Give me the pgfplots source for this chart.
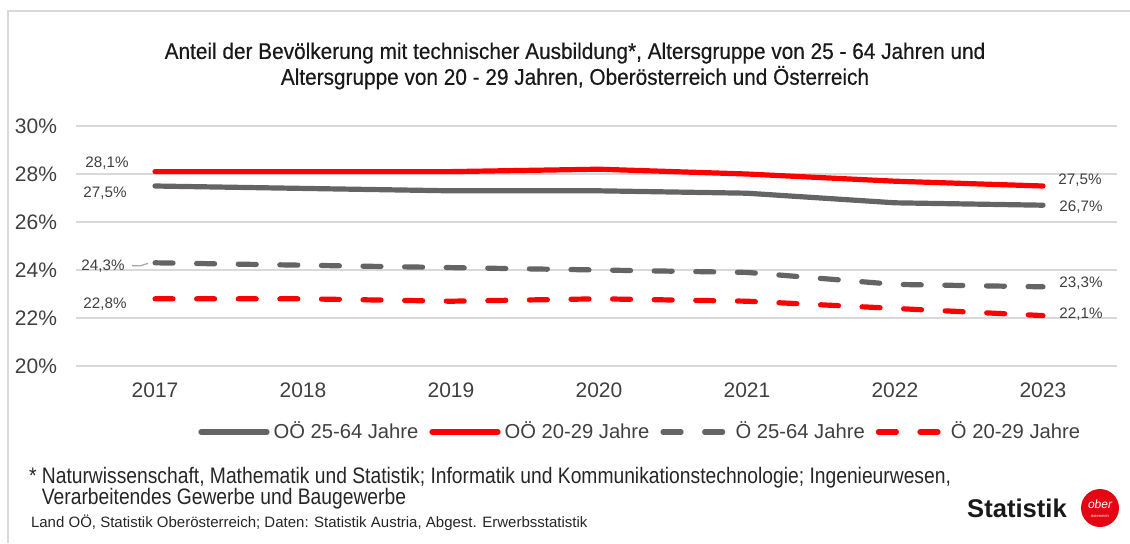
\documentclass[border=0pt]{standalone}
\usepackage{pgfplots}
\pgfplotsset{compat=1.18}
\usepackage{fontspec}
\setmainfont{Liberation Sans}
\newfontfamily\narrowfont{Liberation Sans}[FakeStretch=0.86]
\newfontfamily\titlefont{Liberation Sans}[FakeStretch=0.92,FakeBold=0.4]
\definecolor{lgray}{HTML}{646464}
\definecolor{lred}{HTML}{FF0000}
\definecolor{gridc}{HTML}{D9D9D9}
\definecolor{txt}{HTML}{404040}
\definecolor{logored}{HTML}{E30613}
\begin{document}
\begin{tikzpicture}
\begin{scope}[x=0.5pt,y=-0.5pt]
\useasboundingbox (0,0) rectangle (1130,543);
\draw[gridc,line width=1pt] (8,543) -- (8,11) -- (1130,11);
\node[font=\titlefont\fontsize{11.3}{12.4}\selectfont,text=black!90,align=center] at (575,66)
 {Anteil der Bevölkerung mit technischer Ausbildung*, Altersgruppe von 25 - 64 Jahren und\\[0.5pt]
 Altersgruppe von 20 - 29 Jahren, Oberösterreich und Österreich};
\node[anchor=west,font=\narrowfont\fontsize{11.2}{11}\selectfont,text=black!85,align=left] at (22,488)
 {* Naturwissenschaft, Mathematik und Statistik; Informatik und Kommunikationstechnologie; Ingenieurwesen,\\[-0.6pt]
 \hphantom{* }Verarbeitendes Gewerbe und Baugewerbe};
\node[anchor=west,font=\fontsize{7.5}{8}\selectfont,text=black!85] at (24,523)
 {Land OÖ, Statistik Oberösterreich; Daten: Statistik Austria, Abgest. Erwerbsstatistik};
\node[anchor=center,font=\fontsize{12.8}{14}\bfseries\selectfont,text=black!90] at (1017,508) {Statistik};
\fill[logored] (1100,508) circle (9.5pt);
\node[text=white,font=\fontsize{6}{6}\itshape\selectfont] at (1100,504) {ober};
\node[text=white,font=\fontsize{2}{2}\selectfont] at (1100,516) {österreich};
\end{scope}
\begin{axis}[
  at={(38pt,-183pt)}, anchor=south west,
  scale only axis, width=520.5pt, height=120pt,
  xmin=2016.466, xmax=2023.5, ymin=20, ymax=30,
  xtick={2017,...,2023},
  xticklabel style={/pgf/number format/1000 sep={},font=\fontsize{10.5}{12}\selectfont,text=txt,yshift=-5pt},
  ytick={20,22,...,30},
  yticklabel={\pgfmathprintnumber{\tick}\%},
  yticklabel style={font=\fontsize{10.5}{12}\selectfont,text=txt,xshift=-6pt},
  /pgf/number format/assume math mode=true,
  ymajorgrids, grid style={gridc,line width=0.9pt},
  axis line style={draw=none}, major tick length=0pt,
  clip=false,
  legend columns=4,
  legend style={at={(0.543,-0.275)},anchor=center,draw=none,fill=none,
    font=\fontsize{10.1}{12}\selectfont,text=txt,inner sep=0pt,
    /tikz/every even column/.append style={column sep=3.5pt}},
  legend image code/.code={\draw[#1] (0pt,0pt) -- (33pt,0pt);},
]
\addplot[lgray,line width=2.6pt,line cap=round] coordinates {(2017,27.5) (2018,27.4) (2019,27.3) (2020,27.3) (2021,27.2) (2022,26.8) (2023,26.7)};
\addlegendentry{OÖ 25-64 Jahre}
\addplot[lred,line width=2.6pt,line cap=round] coordinates {(2017,28.1) (2018,28.1) (2019,28.1) (2020,28.2) (2021,28.0) (2022,27.7) (2023,27.5)};
\addlegendentry{OÖ 20-29 Jahre}
\addplot[lgray,line width=2.6pt,line cap=round,dash pattern=on 9pt off 11.8pt] coordinates {(2017,24.3) (2018,24.2) (2019,24.1) (2020,24.0) (2021,23.9) (2022,23.4) (2023,23.3)};
\addlegendentry{Ö 25-64 Jahre}
\addplot[lred,line width=2.6pt,line cap=round,dash pattern=on 9pt off 11.8pt] coordinates {(2017,22.8) (2018,22.8) (2019,22.7) (2020,22.8) (2021,22.7) (2022,22.4) (2023,22.1)};
\addlegendentry{Ö 20-29 Jahre}
\begin{scope}[every node/.style={font=\fontsize{7.6}{9}\selectfont,text=txt,inner sep=0pt}]
\node at (axis cs:2017,28.1) [xshift=-24pt,yshift=4.3pt] {28,1\%};
\node at (axis cs:2017,27.5) [xshift=-25pt,yshift=-3.5pt] {27,5\%};
\node at (axis cs:2017,24.3) [xshift=-26pt,yshift=-1.6pt] {24,3\%};
\draw[gray!70,line width=0.6pt] (axis cs:2017,24.3) ++(-3.5pt,-0.3pt) -- ++(-4pt,-1.2pt) -- ++(-4pt,0pt);
\node at (axis cs:2017,22.8) [xshift=-25pt,yshift=-2.6pt] {22,8\%};
\node at (axis cs:2023,27.5) [xshift=18.5pt,yshift=3pt] {27,5\%};
\node at (axis cs:2023,26.7) [xshift=19pt,yshift=-1pt] {26,7\%};
\node at (axis cs:2023,23.3) [xshift=19pt,yshift=2pt] {23,3\%};
\node at (axis cs:2023,22.1) [xshift=19pt,yshift=0.8pt] {22,1\%};
\end{scope}
\end{axis}
\end{tikzpicture}
\end{document}
